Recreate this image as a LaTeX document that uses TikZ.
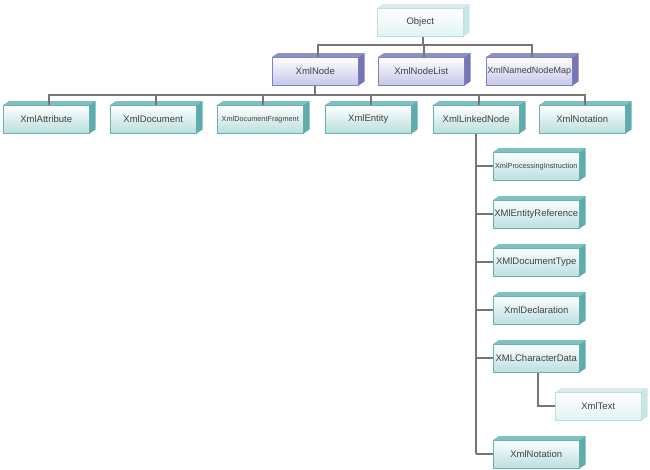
\documentclass[tikz,border=0pt]{standalone}
\usepackage{fontspec}
\setmainfont{Liberation Sans}
\usetikzlibrary{calc}
\definecolor{tealside}{RGB}{95,172,172}
\definecolor{tealtop}{RGB}{125,192,192}
\definecolor{tealfront}{RGB}{185,222,222}
\definecolor{tealedge}{RGB}{110,175,175}
\definecolor{lavside}{RGB}{118,118,182}
\definecolor{lavtop}{RGB}{142,142,200}
\definecolor{lavfront}{RGB}{198,198,234}
\definecolor{lavedge}{RGB}{130,130,190}
\definecolor{paleside}{RGB}{200,230,230}
\definecolor{paletop}{RGB}{214,237,237}
\definecolor{palefront}{RGB}{226,243,243}
\definecolor{paleedge}{RGB}{190,222,222}
\definecolor{linegray}{RGB}{118,118,118}
\definecolor{txt}{RGB}{65,65,65}
\tikzset{
  cls/.style={rectangle, anchor=north west, minimum width=86pt, minimum height=28pt,
    inner sep=0pt, text=txt, font=\fontsize{9.5}{11}\selectfont,
    top color=white, bottom color=#1front, draw=#1edge, line width=0.5pt},
  small/.style={font=\fontsize{7.3}{9}\selectfont},
  snug/.style={font=\fontsize{9}{11}\selectfont},
  conn/.style={draw=linegray, line width=2pt},
}
\begin{document}
\begin{tikzpicture}[x=1pt,y=-1pt]
\useasboundingbox (0,0) rectangle (650,469);
% level 0
\node[cls=pale] (obj) at (377,8) {Object};
% level 1
\node[cls=lav] (xnode) at (272,57) {XmlNode};
\node[cls=lav] (xlist) at (378,57) {XmlNodeList};
\node[cls=lav,snug] (xmap) at (486,57) {XmlNamedNodeMap};
% level 2
\node[cls=teal] (attr) at (3,105) {XmlAttribute};
\node[cls=teal] (doc) at (110,105) {XmlDocument};
\node[cls=teal,small] (frag) at (217,105) {XmlDocumentFragment};
\node[cls=teal] (ent) at (325,105) {XmlEntity};
\node[cls=teal] (linked) at (433,105) {XmlLinkedNode};
\node[cls=teal] (nota) at (539,105) {XmlNotation};
% column
\node[cls=teal,small] (pi) at (493,152) {XmlProcessingInstruction};
\node[cls=teal] (eref) at (493,200) {XMlEntityReference};
\node[cls=teal] (dtype) at (493,248) {XMlDocumentType};
\node[cls=teal] (decl) at (493,296) {XmlDeclaration};
\node[cls=teal] (cdata) at (493,344) {XMLCharacterData};
\node[cls=pale] (xtext) at (555,392) {XmlText};
\node[cls=teal] (nota2) at (493,440) {XmlNotation};
% extrusions
\foreach \n/\c in {obj/pale,xnode/lav,xlist/lav,xmap/lav,attr/teal,doc/teal,frag/teal,ent/teal,linked/teal,nota/teal,pi/teal,eref/teal,dtype/teal,decl/teal,cdata/teal,xtext/pale,nota2/teal}{
  \fill[\c top] (\n.north west) -- ++(6,-4) -- ([shift={(6,-4)}]\n.north east) -- (\n.north east) -- cycle;
  \fill[\c side] (\n.north east) -- ++(6,-4) -- ([shift={(6,-4)}]\n.south east) -- (\n.south east) -- cycle;
}
% connectors level 0 -> 1
\coordinate (j0) at ($(obj.south)+(3,8)$);
\draw[conn] ([xshift=3pt]obj.south) -- (j0);
\draw[conn] ([xshift=3pt]xnode.north) |- (j0) -| ([xshift=3pt]xmap.north);
\draw[conn] (j0) -| ([xshift=3pt]xlist.north);
% level 1 -> 2
\coordinate (j1) at ($(xnode.south)+(0,9)$);
\draw[conn] (xnode.south) -- (j1);
\draw[conn] ([xshift=3pt]attr.north) |- (j1) -| ([xshift=3pt]nota.north);
\foreach \n in {doc,frag,ent,linked}{
  \draw[conn] ([xshift=3pt]\n.north) -- ([xshift=3pt]\n.north |- j1);
}
% column
\coordinate (cbot) at (linked.south |- nota2.west);
\draw[conn] (linked.south) -- (cbot);
\foreach \n in {pi,eref,dtype,decl,cdata,nota2}{
  \draw[conn] (linked.south |- \n.west) -- (\n.west);
}
\draw[conn] ([xshift=2pt]cdata.south) |- (xtext.west);
\end{tikzpicture}
\end{document}
